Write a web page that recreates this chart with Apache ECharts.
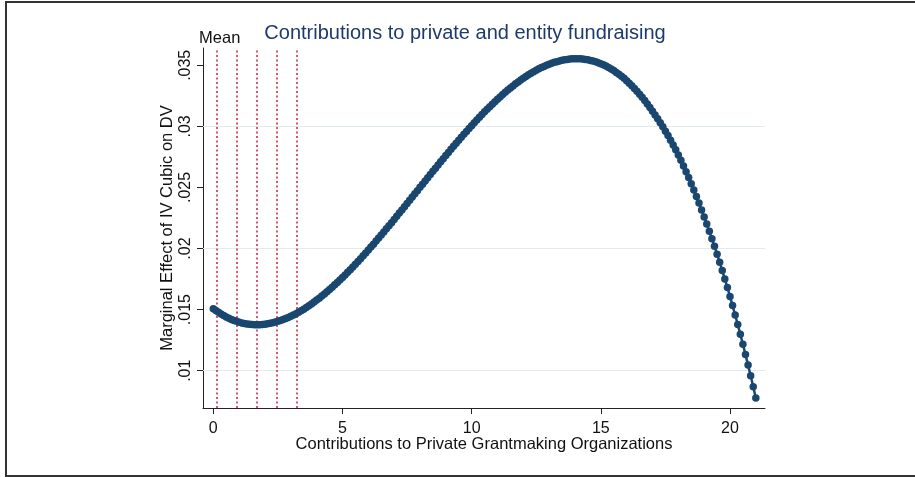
<!DOCTYPE html>
<html>
<head>
<meta charset="utf-8">
<script src="https://cdn.jsdelivr.net/npm/echarts@6/dist/echarts.min.js"></script>
<style>
html,body{margin:0;padding:0;background:#fff;}
#chart{width:915px;height:477px;}
</style>
</head>
<body>
<div id="chart"></div>
<script>
const FONT = "'Liberation Sans', Arial, Helvetica, sans-serif";

const chartTitle = "Contributions to private and entity fundraising";
const xTitle = "Contributions to Private Grantmaking Organizations";
const yTitle = "Marginal Effect of IV Cubic on DV";

const xTicks = [0, 5, 10, 15, 20];
const xTickLabels = ["0", "5", "10", "15", "20"];
const yTicks = [0.01, 0.015, 0.02, 0.025, 0.03, 0.035];
const yTickLabels = [".01", ".015", ".02", ".025", ".03", ".035"];
const gridValues = [0.01, 0.015, 0.02, 0.025, 0.03];

const meanLines = [0.13, 0.90, 1.68, 2.45, 3.23];
const meanLabel = "Mean";

const xs = [
0.0,0.1,0.2,0.3,0.4,0.5,0.6,0.7,0.8,0.9,
1.0,1.1,1.2,1.3,1.4,1.5,1.6,1.7,1.8,1.9,
2.0,2.1,2.2,2.3,2.4,2.5,2.6,2.7,2.8,2.9,
3.0,3.1,3.2,3.3,3.4,3.5,3.6,3.7,3.8,3.9,
4.0,4.1,4.2,4.3,4.4,4.5,4.6,4.7,4.8,4.9,
5.0,5.1,5.2,5.3,5.4,5.5,5.6,5.7,5.8,5.9,
6.0,6.1,6.2,6.3,6.4,6.5,6.6,6.7,6.8,6.9,
7.0,7.1,7.2,7.3,7.4,7.5,7.6,7.7,7.8,7.9,
8.0,8.1,8.2,8.3,8.4,8.5,8.6,8.7,8.8,8.9,
9.0,9.1,9.2,9.3,9.4,9.5,9.6,9.7,9.8,9.9,
10.0,10.1,10.2,10.3,10.4,10.5,10.6,10.7,10.8,10.9,
11.0,11.1,11.2,11.3,11.4,11.5,11.6,11.7,11.8,11.9,
12.0,12.1,12.2,12.3,12.4,12.5,12.6,12.7,12.8,12.9,
13.0,13.1,13.2,13.3,13.4,13.5,13.6,13.7,13.8,13.9,
14.0,14.1,14.2,14.3,14.4,14.5,14.6,14.7,14.8,14.9,
15.0,15.1,15.2,15.3,15.4,15.5,15.6,15.7,15.8,15.9,
16.0,16.1,16.2,16.3,16.4,16.5,16.6,16.7,16.8,16.9,
17.0,17.1,17.2,17.3,17.4,17.5,17.6,17.7,17.8,17.9,
18.0,18.1,18.2,18.3,18.4,18.5,18.6,18.7,18.8,18.9,
19.0,19.1,19.2,19.3,19.4,19.5,19.6,19.7,19.8,19.9,
20.0,20.1,20.2,20.3,20.4,20.5,20.6,20.7,20.8,20.9,
21.0
];

const ys = [
0.01508,0.01492,0.01478,0.01464,0.01451,0.01440,0.01429,0.01420,0.01411,0.01404,
0.01397,0.01391,0.01387,0.01383,0.01380,0.01378,0.01377,0.01377,0.01377,0.01379,
0.01381,0.01384,0.01388,0.01393,0.01398,0.01404,0.01411,0.01419,0.01427,0.01436,
0.01446,0.01456,0.01467,0.01479,0.01491,0.01504,0.01518,0.01532,0.01547,0.01562,
0.01578,0.01594,0.01611,0.01628,0.01646,0.01665,0.01683,0.01703,0.01722,0.01742,
0.01763,0.01784,0.01805,0.01827,0.01849,0.01871,0.01894,0.01917,0.01940,0.01964,
0.01988,0.02012,0.02036,0.02061,0.02086,0.02111,0.02136,0.02161,0.02187,0.02212,
0.02238,0.02264,0.02290,0.02316,0.02343,0.02369,0.02395,0.02422,0.02448,0.02474,
0.02501,0.02527,0.02553,0.02580,0.02606,0.02632,0.02658,0.02684,0.02710,0.02736,
0.02761,0.02787,0.02812,0.02837,0.02862,0.02887,0.02911,0.02935,0.02959,0.02983,
0.03006,0.03029,0.03052,0.03075,0.03097,0.03119,0.03140,0.03161,0.03182,0.03202,
0.03222,0.03241,0.03260,0.03279,0.03297,0.03314,0.03331,0.03348,0.03364,0.03379,
0.03394,0.03408,0.03422,0.03435,0.03448,0.03460,0.03471,0.03481,0.03491,0.03501,
0.03509,0.03517,0.03524,0.03530,0.03536,0.03541,0.03545,0.03548,0.03551,0.03553,
0.03553,0.03553,0.03553,0.03551,0.03548,0.03545,0.03540,0.03535,0.03529,0.03521,
0.03513,0.03504,0.03494,0.03482,0.03470,0.03457,0.03442,0.03427,0.03410,0.03393,
0.03374,0.03354,0.03333,0.03311,0.03288,0.03264,0.03238,0.03211,0.03183,0.03154,
0.03123,0.03093,0.03062,0.03030,0.02996,0.02961,0.02925,0.02887,0.02848,0.02808,
0.02766,0.02722,0.02676,0.02629,0.02581,0.02531,0.02479,0.02427,0.02372,0.02316,
0.02259,0.02201,0.02141,0.02080,0.02018,0.01954,0.01888,0.01820,0.01751,0.01681,
0.01608,0.01533,0.01456,0.01378,0.01298,0.01216,0.01132,0.01046,0.00959,0.00869,
0.00777
];

function nearestLabel(v, ticks, labels) {
  let best = 0, bd = Infinity;
  for (let i = 0; i < ticks.length; i++) {
    const d = Math.abs(ticks[i] - v);
    if (d < bd) { bd = d; best = i; }
  }
  return labels[best];
}

const chart = echarts.init(document.getElementById('chart'), null, {renderer: 'canvas'});

const GL = 203, GR = 765, GT = 48, GB = 408;

const option = {
  animation: false,
  backgroundColor: '#ffffff',
  grid: {left: GL, right: 915 - GR, top: GT, bottom: 477 - GB, containLabel: false},
  xAxis: {
    type: 'value',
    min: -0.399,
    max: 21.355,
    axisLine: {show: true, onZero: false, lineStyle: {color: '#222', width: 1}},
    axisTick: {show: true, length: 6, customValues: xTicks, lineStyle: {color: '#222', width: 1}},
    axisLabel: {
      show: true, customValues: xTicks, margin: 13,
      fontSize: 16, fontFamily: FONT, color: '#111',
      formatter: v => nearestLabel(v, xTicks, xTickLabels)
    },
    splitLine: {show: false}
  },
  yAxis: {
    type: 'value',
    min: 0.006947,
    max: 0.036416,
    axisLine: {show: true, onZero: false, lineStyle: {color: '#222', width: 1}},
    axisTick: {show: true, length: 6, customValues: yTicks, lineStyle: {color: '#222', width: 1}},
    axisLabel: {
      show: true, customValues: yTicks, margin: 9, rotate: 90,
      fontSize: 16, fontFamily: FONT, color: '#111',
      formatter: v => nearestLabel(v, yTicks, yTickLabels)
    },
    splitLine: {show: false}
  },
  graphic: [
    {
      type: 'rect', silent: true, z: 100,
      shape: {x: 6, y: 2, width: 930, height: 474},
      style: {fill: 'none', stroke: '#333', lineWidth: 2}
    },
    {
      type: 'text', x: 465, y: 33, silent: true,
      style: {text: chartTitle, fill: '#1d3b6a', font: '20px ' + FONT, align: 'center', verticalAlign: 'middle'}
    },
    {
      type: 'text', x: (GL + GR) / 2, y: 444, silent: true,
      style: {text: xTitle, fill: '#111', font: '16.5px ' + FONT, align: 'center', verticalAlign: 'middle'}
    },
    {
      type: 'text', x: 167, y: (GT + GB) / 2, rotation: Math.PI / 2, silent: true,
      style: {text: yTitle, fill: '#111', font: '16.5px ' + FONT, align: 'center', verticalAlign: 'middle'}
    }
  ],
  series: [
    {
      type: 'line',
      data: [],
      silent: true,
      z: 1,
      markLine: {
        silent: true,
        symbol: ['none', 'none'],
        animation: false,
        label: {show: false},
        lineStyle: {color: '#e1eaee', width: 1, type: 'solid'},
        data: gridValues.map(v => ({yAxis: v}))
      }
    },
    {
      type: 'line',
      data: [],
      silent: true,
      z: 2,
      markLine: {
        silent: true,
        symbol: ['none', 'none'],
        animation: false,
        lineStyle: {color: '#cc1f3c', width: 1.5, type: [2, 2.5]},
        label: {show: false},
        data: meanLines.map((v, i) => ({
          xAxis: v,
          label: i === 0 ? {
            show: true, position: 'end', formatter: meanLabel, distance: 1,
            offset: [3, 0],
            color: '#111', fontSize: 16.5, fontFamily: FONT
          } : {show: false}
        }))
      }
    },
    {
      type: 'line',
      z: 5,
      data: xs.map((x, i) => [x, ys[i]]),
      symbol: 'circle',
      symbolSize: 7.5,
      showSymbol: true,
      showAllSymbol: true,
      itemStyle: {color: '#1a476f'},
      lineStyle: {color: '#1a476f', width: 2.5},
      emphasis: {disabled: true}
    }
  ]
};

chart.setOption(option);
</script>
</body>
</html>
